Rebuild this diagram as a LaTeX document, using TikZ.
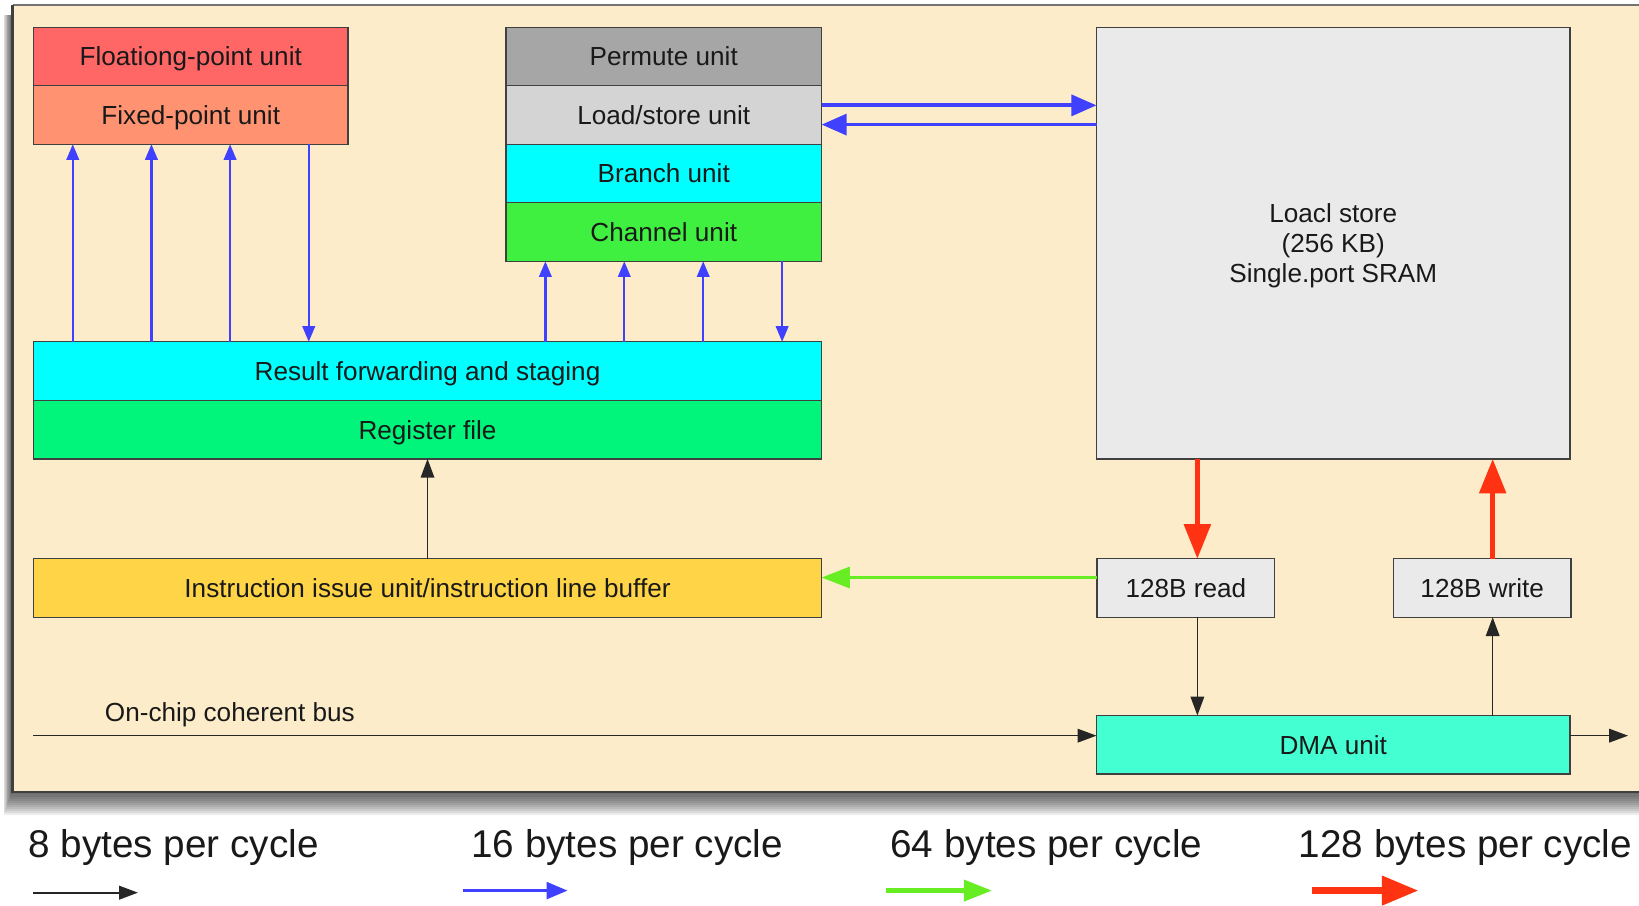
\documentclass[tikz,border=0pt]{standalone}
\usepackage{fontspec}
\setmainfont{Liberation Sans}
\usetikzlibrary{arrows.meta,calc}

\definecolor{panelbg}{RGB}{253,236,201}
\definecolor{fpucol}{RGB}{255,102,102}
\definecolor{fxucol}{RGB}{255,146,112}
\definecolor{permcol}{RGB}{166,166,166}
\definecolor{lsucol}{RGB}{212,212,212}
\definecolor{cyancol}{RGB}{0,255,255}
\definecolor{chancol}{RGB}{64,240,64}
\definecolor{regcol}{RGB}{0,245,122}
\definecolor{issuecol}{RGB}{255,212,71}
\definecolor{storecol}{RGB}{234,234,234}
\definecolor{dmacol}{RGB}{68,255,210}
\definecolor{busblue}{RGB}{64,64,255}
\definecolor{busgreen}{RGB}{102,238,34}
\definecolor{busred}{RGB}{255,51,17}

\newcommand{\unitfont}{\fontsize{12.5}{14.5}\selectfont}
\newcommand{\legendfont}{\fontsize{18.5}{22}\selectfont}

\tikzset{
	unitbox/.style={draw=black!75, line width=0.6pt, inner sep=0pt, outer sep=0pt,
		minimum height=28pt, align=center, font=\unitfont, text=black!90,
		text height=9pt, text depth=0pt},
	blackflow/.style={draw=black!85, line width=0.7pt, -{Triangle[length=9pt,width=6.5pt]}},
	blueflow/.style={draw=busblue, line width=1.1pt, -{Triangle[length=7.5pt,width=6pt]}},
	bluewide/.style={draw=busblue, line width=1.8pt, -{Triangle[length=12pt,width=10pt]}},
	greenflow/.style={draw=busgreen, line width=1.7pt, -{Triangle[length=13.5pt,width=10pt]}},
	redflow/.style={draw=busred, line width=2.4pt, -{Triangle[length=16.5pt,width=12.5pt]}},
}

\begin{document}
\begin{tikzpicture}[x=0.5pt, y=-0.5pt]
	\useasboundingbox (0,0) rectangle (1568,866);
	% soft shadow under the chip panel, then the panel; its right edge runs off the page
	\foreach \k in {1,...,12}
		\fill[black, opacity=0.075] (12-0.7*\k,14) rectangle (1600,756+2*\k);
	\fill[panelbg] (12,5) rectangle (1600,758);
	\draw[black!55, line width=1pt] (1600,5) -- (12,5);
	\draw[black!75, line width=1pt] (12,5) -- (12,758) -- (1600,758);

	% execution units
	\node[unitbox, fill=fpucol, minimum width=150.5pt] (fpu) at (182.5,54) {Floationg-point unit};
	\node[unitbox, fill=fxucol, minimum width=150.5pt] (fxu) at (182.5,110) {Fixed-point unit};
	\node[unitbox, fill=permcol, minimum width=151pt] (perm) at (635,54) {Permute unit};
	\node[unitbox, fill=lsucol, minimum width=151pt] (lsu) at (635,110) {Load/store unit};
	\node[unitbox, fill=cyancol, minimum width=151pt] (branch) at (635,166) {Branch unit};
	\node[unitbox, fill=chancol, minimum width=151pt] (chan) at (635,222) {Channel unit};
	\node[unitbox, fill=cyancol, minimum width=377pt] (fwd) at (409,355) {Result forwarding and staging};
	\node[unitbox, fill=regcol, minimum width=377pt] (reg) at (409,411) {Register file};
	\node[unitbox, fill=issuecol, minimum width=377pt] (issue) at (409,562.5) {Instruction issue unit/instruction line buffer};

	% local store and DMA side
	\node[unitbox, fill=storecol, minimum width=226.5pt, minimum height=206.5pt, text height={}] (store) at (1275.5,232.5) {Loacl store\\(256 KB)\\Single.port SRAM};
	\node[unitbox, fill=storecol, minimum width=85pt] (rd) at (1134.5,562.5) {128B read};
	\node[unitbox, fill=storecol, minimum width=85pt] (wr) at (1418,562.5) {128B write};
	\node[unitbox, fill=dmacol, minimum width=226.5pt] (dma) at (1275.5,712.5) {DMA unit};

	% 16-byte paths: three up, one down, at 1/8, 3/8, 5/8 and 7/8 of each unit's width
	\foreach \f [count=\i] in {0.125,0.375,0.625,0.875} {
		\path (fxu.south west) -- (fxu.south east) coordinate[pos=\f] (fx\i);
		\path (chan.south west) -- (chan.south east) coordinate[pos=\f] (ch\i);
	}
	\foreach \i in {1,2,3} {
		\draw[blueflow] (fx\i |- fwd.north) -- (fx\i);
		\draw[blueflow] (ch\i |- fwd.north) -- (ch\i);
	}
	\draw[blueflow] (fx4) -- (fx4 |- fwd.north);
	\draw[blueflow] (ch4) -- (ch4 |- fwd.north);
	\draw[bluewide] ([yshift=4.6pt]lsu.east) -- ([yshift=4.6pt]lsu.east -| store.west);
	\draw[bluewide] ([yshift=-4.6pt]lsu.east -| store.west) -- ([yshift=-4.6pt]lsu.east);

	\draw[blackflow] (issue.north) -- (reg.south);
	\draw[greenflow] ([yshift=5pt]rd.west) -- ([yshift=5pt]rd.west -| issue.east);
	\draw[redflow] ([xshift=5.5pt]rd.north |- store.south) -- ([xshift=5.5pt]rd.north);
	\draw[redflow] ([xshift=5pt]wr.north) -- ([xshift=5pt]wr.north |- store.south);
	\draw[blackflow] ([xshift=5.5pt]rd.south) -- ([xshift=5.5pt]rd.south |- dma.north);
	\draw[blackflow] ([xshift=5pt]wr.south |- dma.north) -- ([xshift=5pt]wr.south);

	% the bus runs through the DMA unit
	\coordinate (busin) at (31.6,703.8);
	\coordinate (busout) at (1557.5,703.8);
	\draw[blackflow] (busin) -- (busin -| dma.west);
	\draw[blackflow] (busin -| dma.east) -- (busout);
	\node[font=\unitfont, text=black!90, anchor=base west, inner sep=0pt] (buslbl) at (100,690) {On-chip coherent bus};

	% legend
	\foreach \x/\n in {166/8, 600/16, 1001/64, 1402/128}
		\node[font=\legendfont, text=black!90, anchor=base, inner sep=0pt] (lg\n) at (\x,820) {\n{} bytes per cycle};
	\coordinate (k8a) at (32,854);    \coordinate (k8b) at (132,854);
	\coordinate (k16a) at (443,852);  \coordinate (k16b) at (543,852);
	\coordinate (k64a) at (848,852);  \coordinate (k64b) at (949,852);
	\coordinate (k128a) at (1255,852); \coordinate (k128b) at (1357,852);
	\draw[blackflow, line width=0.9pt] (k8a) -- (k8b);
	\draw[blueflow, line width=1.4pt, -{Triangle[length=10pt,width=8pt]}] (k16a) -- (k16b);
	\draw[greenflow, line width=2.2pt] (k64a) -- (k64b);
	\draw[redflow, line width=3.2pt, -{Triangle[length=17.5pt,width=13.5pt]}] (k128a) -- (k128b);
\end{tikzpicture}
\end{document}
